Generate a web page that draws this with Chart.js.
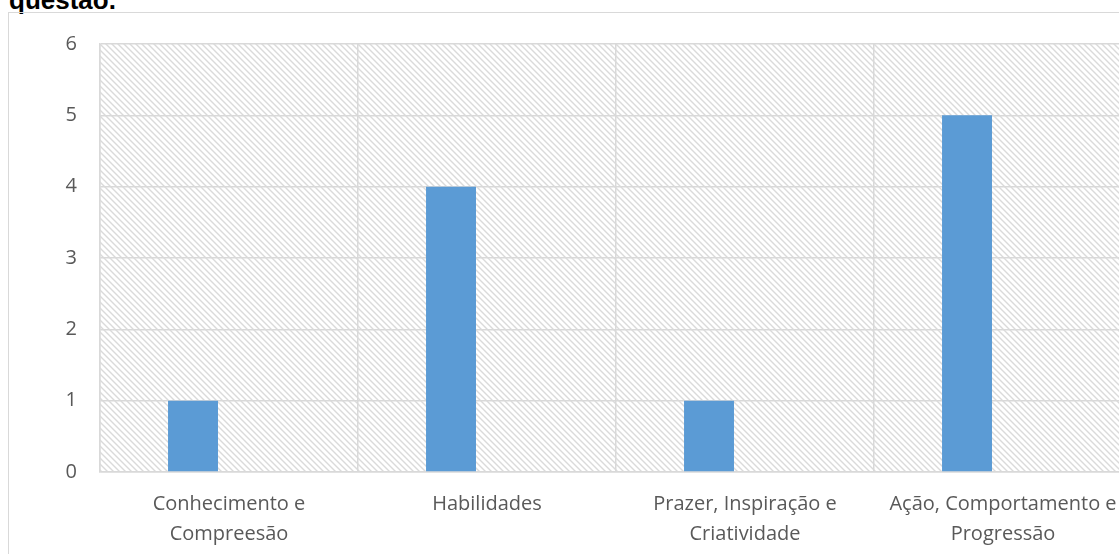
<!DOCTYPE html>
<html>
<head>
<meta charset="utf-8">
<script src="https://cdn.jsdelivr.net/npm/chart.js"></script>
<style>
  html, body { margin: 0; padding: 0; background: #fff; overflow: hidden; width: 1119px; height: 554px; }
  #titulo {
    position: absolute; left: 9px; top: -13px;
    font: bold 26px "Liberation Sans", Arial, sans-serif; line-height: 26px; color: #000;
  }
  #caixa {
    position: absolute; left: 8px; top: 12px;
    width: 1124px; height: 560px;
    border: 1px solid #d9d9d9;
  }
  canvas { display: block; }
</style>
</head>
<body>
<div id="titulo">questão.</div>
<div id="caixa"><canvas id="grafico" width="1124" height="560"></canvas></div>
<script>
// Dados do gráfico
const categorias = [
    ['Conhecimento e', 'Compreesão'],
    ['Habilidades'],
    ['Prazer, Inspiração e', 'Criatividade'],
    ['Ação, Comportamento e', 'Progressão']
];
const valores = [1, 4, 1, 5];
const serieVazia = [null, null, null, null];
const ticksY = [0, 1, 2, 3, 4, 5, 6];

const corTexto = '#595959';
const corGrade = '#d9d9d9';

// Fundo hachurado da área do gráfico
function criarHachura(ctx) {
    const tile = document.createElement('canvas');
    tile.width = 6;
    tile.height = 6;
    const t = tile.getContext('2d');
    t.strokeStyle = '#dadada';
    t.lineWidth = 1.4;
    t.beginPath();
    t.moveTo(-1, -1); t.lineTo(7, 7);
    t.moveTo(-4, 2); t.lineTo(4, 10);
    t.moveTo(2, -4); t.lineTo(10, 4);
    t.stroke();
    return ctx.createPattern(tile, 'repeat');
}

const hachuraPlugin = {
    id: 'hachura',
    beforeDraw(chart) {
        const { ctx, chartArea } = chart;
        ctx.save();
        ctx.fillStyle = criarHachura(ctx);
        ctx.fillRect(chartArea.left, chartArea.top, chartArea.right - chartArea.left, chartArea.bottom - chartArea.top);
        ctx.restore();
    }
};

Chart.defaults.font.family = '"Open Sans", sans-serif';
Chart.defaults.color = corTexto;

new Chart(document.getElementById('grafico'), {
    type: 'bar',
    data: {
        labels: categorias,
        datasets: [
            {
                label: 'Série 1',
                data: valores,
                backgroundColor: '#5b9bd5',
                categoryPercentage: 0.558,
                barPercentage: 0.694
            },
            {
                label: 'Série 2',
                data: serieVazia,
                backgroundColor: '#ed7d31',
                categoryPercentage: 0.558,
                barPercentage: 0.694
            }
        ]
    },
    options: {
        responsive: false,
        animation: false,
        layout: { padding: { left: 0, right: 1, top: 31, bottom: 0 } },
        plugins: {
            legend: { display: false },
            tooltip: { enabled: false }
        },
        scales: {
            x: {
                grid: { color: corGrade, lineWidth: 1.5, drawTicks: false, offset: true },
                border: { color: corGrade, width: 1.5 },
                ticks: {
                    font: { size: 20, lineHeight: 1.5 },
                    padding: 17,
                    maxRotation: 0,
                    autoSkip: false
                },
                afterFit(scale) {
                    scale.height = 101;
                    scale.paddingLeft = 0;
                    scale.paddingRight = 0;
                }
            },
            y: {
                min: 0,
                max: 6,
                grid: { color: corGrade, lineWidth: 1.5, drawTicks: false },
                border: { color: corGrade, width: 1.5 },
                afterBuildTicks(scale) { scale.ticks = ticksY.map(v => ({ value: v })); },
                ticks: {
                    font: { size: 20 },
                    padding: 23
                },
                afterFit(scale) {
                    scale.width = 91;
                    scale.paddingTop = 0;
                    scale.paddingBottom = 0;
                }
            }
        }
    },
    plugins: [hachuraPlugin]
});
</script>
</body>
</html>
